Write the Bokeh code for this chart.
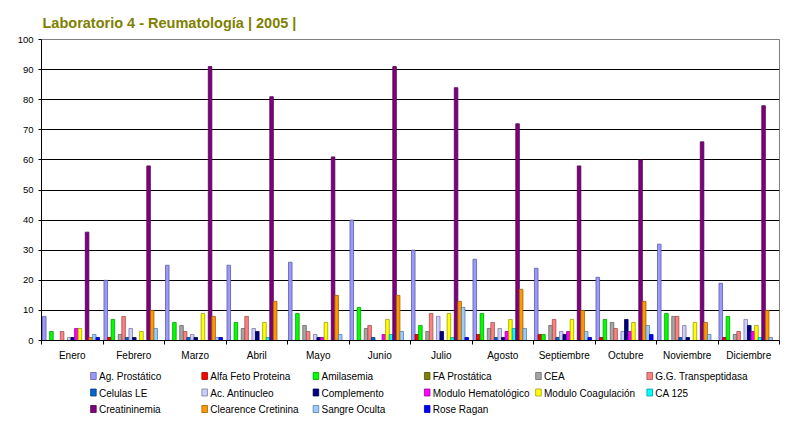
import numpy as np
from bokeh.plotting import figure
from bokeh.layouts import column
from bokeh.models import Range1d, FixedTicker
from bokeh.core.properties import value
from bokeh.embed import file_html
from bokeh.resources import INLINE

months = ["Enero", "Febrero", "Marzo", "Abril", "Mayo", "Junio", "Julio",
          "Agosto", "Septiembre", "Octubre", "Noviembre", "Diciembre"]

series_names = ["Ag. Prostático", "Alfa Feto Proteina", "Amilasemia", "FA Prostática",
                "CEA", "G.G. Transpeptidasa", "Celulas LE", "Ac. Antinucleo",
                "Complemento", "Modulo Hematológico", "Modulo Coagulación", "CA 125",
                "Creatininemia", "Clearence Cretinina", "Sangre Oculta", "Rose Ragan"]

ag_prostatico = [8, 20, 25, 25, 26, 40, 30, 27, 24, 21, 32, 19]
alfa_feto_proteina = [0, 1, 0, 0, 0, 0, 2, 2, 2, 1, 0, 1]
amilasemia = [3, 7, 6, 6, 9, 11, 5, 9, 2, 7, 9, 8]
fa_prostatica = [0, 0, 0, 0, 0, 0, 0, 0, 0, 0, 0, 0]
cea = [0, 2, 5, 4, 5, 4, 3, 4, 5, 6, 8, 2]
gg_transpeptidasa = [3, 8, 3, 8, 3, 5, 9, 6, 7, 4, 8, 3]
celulas_le = [0, 1, 1, 0, 0, 1, 0, 1, 1, 0, 1, 0]
ac_antinucleo = [1, 4, 2, 4, 2, 0, 8, 4, 3, 3, 5, 7]
complemento = [1, 1, 1, 3, 1, 0, 3, 1, 2, 7, 1, 5]
modulo_hematologico = [4, 0, 0, 0, 1, 2, 0, 3, 3, 3, 0, 3]
modulo_coagulacion = [4, 3, 9, 6, 6, 7, 9, 7, 7, 6, 6, 5]
ca_125 = [0, 0, 0, 1, 0, 2, 1, 4, 0, 0, 0, 1]
creatininemia = [36, 58, 91, 81, 61, 91, 84, 72, 58, 60, 66, 78]
clearence_cretinina = [1, 10, 8, 13, 15, 15, 13, 17, 10, 13, 6, 10]
sangre_oculta = [2, 4, 1, 0, 2, 3, 11, 4, 3, 5, 2, 1]
rose_ragan = [1, 0, 1, 0, 0, 0, 1, 0, 1, 2, 0, 0]

series_values = [ag_prostatico, alfa_feto_proteina, amilasemia, fa_prostatica, cea,
                 gg_transpeptidasa, celulas_le, ac_antinucleo, complemento,
                 modulo_hematologico, modulo_coagulacion, ca_125, creatininemia,
                 clearence_cretinina, sangre_oculta, rose_ragan]

colors = ["#9999FF", "#FF0000", "#00FF00", "#808000", "#A6A6A6", "#FF8080",
          "#0066CC", "#CCCCFF", "#000080", "#FF00FF", "#FFFF00", "#00FFFF",
          "#800080", "#FF9900", "#99CCFF", "#0000FF"]

y_ticks = list(range(0, 101, 10))


def darker(hexcol, f=0.62):
    r, g, b = (int(hexcol[i:i + 2], 16) for i in (1, 3, 5))
    return "#%02x%02x%02x" % (int(r * f), int(g * f), int(b * f))


FONT = "Liberation Sans"
W = 796
MAIN_H = 365
LEG_H = 423 - MAIN_H

p = figure(width=W, height=MAIN_H, x_range=Range1d(0, 12), y_range=Range1d(0, 100),
           output_backend="svg", toolbar_location=None,
           min_border_left=41, min_border_right=17, min_border_top=39,
           min_border_bottom=MAIN_H - 340, background_fill_color="white",
           border_fill_color="white")

p.title.text = "Laboratorio 4 - Reumatología | 2005 |"
p.title.text_color = "#808000"
p.title.text_font = FONT
p.title.text_font_size = "14.5px"
p.title.text_font_style = "bold"
p.title.align = "left"
p.title.offset = 1
p.title.standoff = 18

n = len(series_values)
bw = 0.058
shift = -0.02
centers = np.arange(len(months)) + 0.5 + shift
for j, (name, vals, col) in enumerate(zip(series_names, series_values, colors)):
    p.vbar(x=centers + (j - (n - 1) / 2) * bw, top=vals, bottom=0, width=bw,
           fill_color=col, line_color=darker(col), line_width=0.8)

# axes
p.outline_line_color = "#808080"
p.xgrid.grid_line_color = None
p.ygrid.ticker = FixedTicker(ticks=y_ticks[1:-1])
p.ygrid.grid_line_color = "black"
p.ygrid.grid_line_width = 1

p.yaxis.ticker = FixedTicker(ticks=y_ticks)
p.yaxis.axis_line_color = "black"
p.yaxis.major_tick_line_color = "black"
p.yaxis.major_tick_out = 3
p.yaxis.major_tick_in = 0
p.yaxis.minor_tick_line_color = None
p.yaxis.major_label_text_font = FONT
p.yaxis.major_label_text_font_size = "9.5px"
p.yaxis.major_label_text_color = "black"
p.yaxis.major_label_standoff = 5

p.xaxis.ticker = FixedTicker(ticks=list(np.arange(len(months)) + 0.5),
                             minor_ticks=list(range(len(months) + 1)))
p.xaxis.major_label_overrides = {float(i + 0.5): m for i, m in enumerate(months)}
p.xaxis.major_tick_line_color = None
p.xaxis.major_tick_out = 0
p.xaxis.major_tick_in = 0
p.xaxis.minor_tick_line_color = "black"
p.xaxis.minor_tick_out = 4
p.xaxis.minor_tick_in = 0
p.xaxis.axis_line_color = "black"
p.xaxis.major_label_text_font = FONT
p.xaxis.major_label_text_font_size = "10px"
p.xaxis.major_label_text_color = "black"
p.xaxis.major_label_standoff = 5

# legend panel (separate figure, pixel coordinates)
lf = figure(width=W, height=LEG_H, x_range=Range1d(0, W), y_range=Range1d(LEG_H, 0),
            output_backend="svg", toolbar_location=None,
            x_axis_location=None, y_axis_location=None,
            min_border=0, min_border_left=0, min_border_right=0,
            min_border_top=0, min_border_bottom=0,
            background_fill_color="white", border_fill_color="white")
lf.outline_line_color = None
lf.xgrid.grid_line_color = None
lf.ygrid.grid_line_color = None

ncols = 6
idx = np.arange(n)
col_i = idx % ncols
row_i = idx // ncols
mx = 56 + col_i * 120
my = 10.5 + row_i * 16.5
lf.rect(x=mx, y=my, width=6, height=7, fill_color=colors,
        line_color=[darker(c) for c in colors], line_width=0.8)
lf.text(x=mx + 6, y=my + 0.5, text=series_names, text_font=value(FONT),
        text_font_size="10px", text_baseline="middle", text_align="left",
        text_color="black")

layout = column(p, lf, spacing=0)
open("out.html", "w").write(file_html(layout, INLINE))
